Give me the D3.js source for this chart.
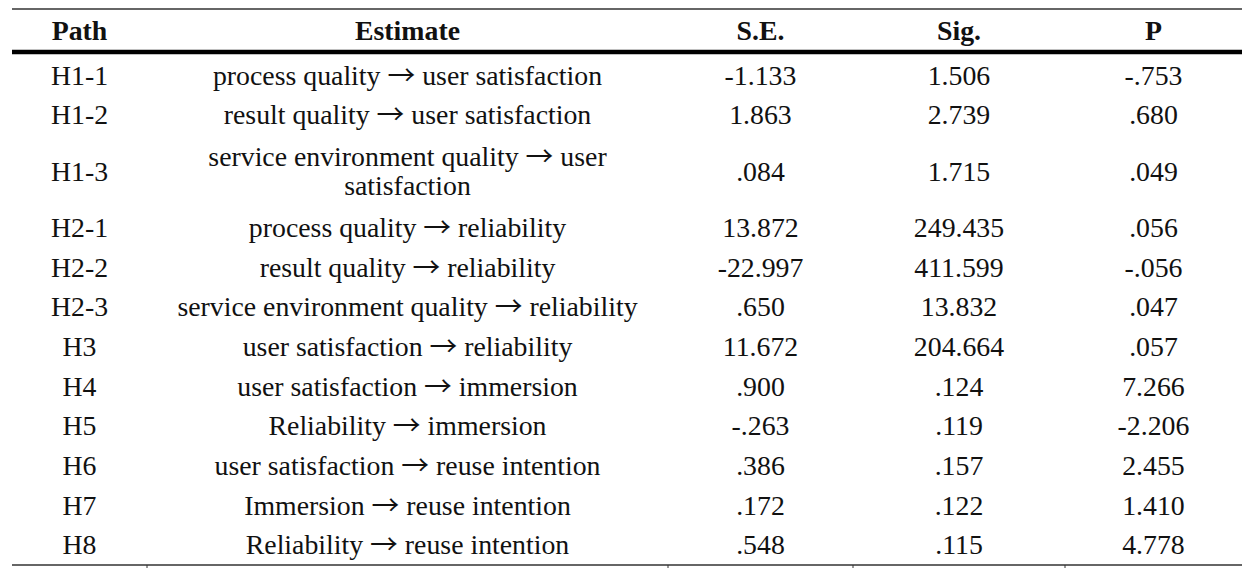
<!DOCTYPE html>
<html>
<head>
<meta charset="utf-8">
<script src="https://cdn.jsdelivr.net/npm/d3@7/dist/d3.min.js"></script>
<style>
  html, body { margin: 0; padding: 0; background: #fff; }
  svg { display: block; }
  text { font-family: "Liberation Serif", "Times New Roman", serif; fill: #111; }
  tspan.arrow { font-family: "Noto Sans CJK JP", "DejaVu Serif", serif; }
</style>
</head>
<body>
<svg id="chart" width="1260" height="569"></svg>
<script>
const headers = ["Path", "Estimate", "S.E.", "Sig.", "P"];
const paths = ["H1-1","H1-2","H1-3","H2-1","H2-2","H2-3","H3","H4","H5","H6","H7","H8"];
const estimates = [
  "process quality \u2192 user satisfaction",
  "result quality \u2192 user satisfaction",
  "service environment quality \u2192 user satisfaction",
  "process quality \u2192 reliability",
  "result quality \u2192 reliability",
  "service environment quality \u2192 reliability",
  "user satisfaction \u2192 reliability",
  "user satisfaction \u2192 immersion",
  "Reliability \u2192 immersion",
  "user satisfaction \u2192 reuse intention",
  "Immersion \u2192 reuse intention",
  "Reliability \u2192 reuse intention"
];
const seValues = ["-1.133","1.863",".084","13.872","-22.997",".650","11.672",".900","-.263",".386",".172",".548"];
const sigValues = ["1.506","2.739","1.715","249.435","411.599","13.832","204.664",".124",".119",".157",".122",".115"];
const pValues = ["-.753",".680",".049",".056","-.056",".047",".057","7.266","-2.206","2.455","1.410","4.778"];

const svg = d3.select("#chart");
const fontSize = 27.8;
const colEdges = [12, 147, 668, 853, 1065, 1242];
const colCenter = i => (colEdges[i] + colEdges[i + 1]) / 2;

function fillRich(sel, str) {
  sel.text(null);
  const parts = str.split("\u2192");
  parts.forEach((p, i) => {
    if (i > 0) sel.append("tspan").attr("class", "arrow").text("\u2192");
    if (p.length) sel.append("tspan").text(p);
  });
}

// measure + wrap estimate text
const measure = svg.append("text").attr("font-size", fontSize).attr("visibility", "hidden");
function wrap(str, maxW) {
  const words = str.split(" ");
  const lines = [];
  let cur = [];
  for (const w of words) {
    const trial = cur.concat([w]).join(" ");
    fillRich(measure, trial);
    if (measure.node().getComputedTextLength() > maxW && cur.length) {
      lines.push(cur.join(" "));
      cur = [w];
    } else cur.push(w);
  }
  if (cur.length) lines.push(cur.join(" "));
  return lines;
}
const estLines = estimates.map(s => wrap(s, colEdges[2] - colEdges[1] - 24));
measure.remove();

const rows = paths.map((p, i) => ({
  path: p, est: estLines[i], se: seValues[i], sig: sigValues[i], p: pValues[i],
  units: 1 + (estLines[i].length - 1) * 0.84
}));
let acc = 0;
rows.forEach(r => { r.start = acc; acc += r.units; r.mid = r.start + r.units / 2; });

const y = d3.scaleLinear().domain([0, acc]).range([55.5, 565]);
const lineGap = 29;

// header
const hdr = svg.append("g");
hdr.selectAll("text").data(headers).join("text")
  .attr("x", (d, i) => colCenter(i))
  .attr("y", 40)
  .attr("text-anchor", "middle")
  .attr("font-size", fontSize)
  .attr("font-weight", "bold")
  .text(d => d);

// rules
svg.append("line").attr("x1", colEdges[0]).attr("x2", colEdges[5]).attr("y1", 9).attr("y2", 9)
  .attr("stroke", "#333").attr("stroke-width", 1.5);
svg.append("line").attr("x1", colEdges[0]).attr("x2", colEdges[5]).attr("y1", 52).attr("y2", 52)
  .attr("stroke", "#000").attr("stroke-width", 4.5);
svg.append("line").attr("x1", colEdges[0]).attr("x2", colEdges[5]).attr("y1", y(acc)).attr("y2", y(acc))
  .attr("stroke", "#333").attr("stroke-width", 1.5);
svg.selectAll("line.tick").data(colEdges.slice(1, 5)).join("line").attr("class", "tick")
  .attr("x1", d => d).attr("x2", d => d).attr("y1", y(acc)).attr("y2", y(acc) + 3)
  .attr("stroke", "#333").attr("stroke-width", 1);

// body
const g = svg.append("g").attr("font-size", fontSize);
const rowG = g.selectAll("g.row").data(rows).join("g").attr("class", "row");
const cellKeys = ["path", null, "se", "sig", "p"];
cellKeys.forEach((k, ci) => {
  if (k === null) {
    rowG.each(function (r) {
      const n = r.est.length;
      d3.select(this).selectAll("text.est").data(r.est).join("text").attr("class", "est")
        .attr("x", colCenter(1))
        .attr("y", (d, j) => y(r.mid) + (j - (n - 1) / 2) * lineGap)
        .attr("dy", "0.33em")
        .attr("text-anchor", "middle")
        .each(function (d) { fillRich(d3.select(this), d); });
    });
  } else {
    rowG.append("text")
      .attr("x", colCenter(ci))
      .attr("y", r => y(r.mid))
      .attr("dy", "0.33em")
      .attr("text-anchor", "middle")
      .text(r => r[k]);
  }
});
</script>
</body>
</html>
